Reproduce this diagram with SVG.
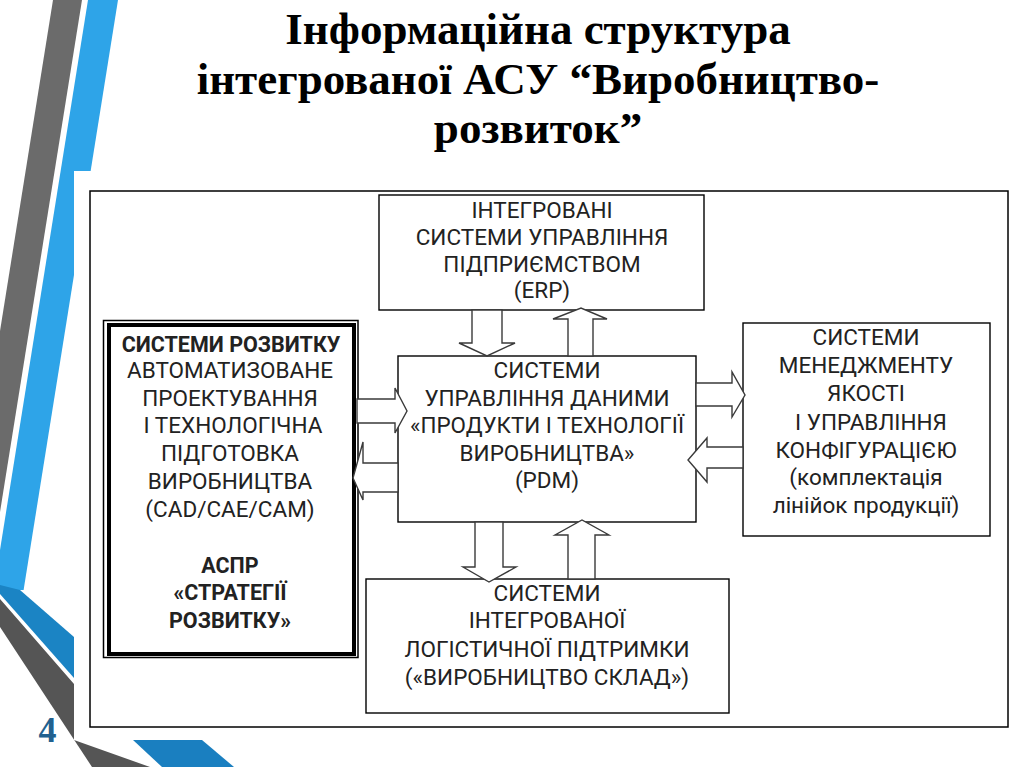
<svg xmlns="http://www.w3.org/2000/svg" width="1024" height="767" viewBox="0 0 1024 767">
<style>
.t{font-family:Roboto,"Open Sans","DejaVu Sans",sans-serif;font-size:22.5px;fill:#222;text-anchor:middle}
.b{font-weight:bold;font-size:21.5px}
.box{fill:#fff;stroke:#000;stroke-width:1.4}
.arr{fill:#fff;stroke:#3a3a3a;stroke-width:1.4;stroke-linejoin:miter}
.title{font-family:"Liberation Serif","Times New Roman",serif;font-weight:bold;font-size:45px;fill:#000;text-anchor:middle}
</style>
<g id="decoration">
<polygon points="53,0 82,0 0,512 0,331" fill="#6b6b6b"/>
<polygon points="88,0 118,0 23.6,590 0,590 0,550" fill="#2ea4e8"/>
<polygon points="0,585 20,590 74,637 74,678 0,594" fill="#1b84c4"/>
<polygon points="0,599 74,684 74,740 150,767 0,767" fill="#555555"/>
<polygon points="0,627 92,767 0,767" fill="#fff"/>
<polygon points="133,740 202,740 234,767 162,767" fill="#1a7fc0"/>
<rect x="74" y="171" width="950" height="569" fill="#fff"/>
<text x="47.5" y="742" font-family="Liberation Serif,serif" font-weight="bold" font-size="36" fill="#22618f" text-anchor="middle">4</text>
</g>
<g id="title">
<text class="title" x="538" y="44">Інформаційна структура</text>
<text class="title" x="538" y="94">інтегрованої АСУ “Виробництво-</text>
<text class="title" x="538" y="143">розвиток”</text>
</g>
<rect id="frame" x="90" y="191" width="918" height="536" fill="none" stroke="#000" stroke-width="1.5"/>
<g id="erp">
<rect class="box" x="379" y="195" width="325" height="115"/>
<text class="t" x="542" y="218">ІНТЕГРОВАНІ</text>
<text class="t" x="542" y="245">СИСТЕМИ УПРАВЛІННЯ</text>
<text class="t" x="542" y="272">ПІДПРИЄМСТВОМ</text>
<text class="t" x="542" y="298">(ERP)</text>
</g>
<g id="pdm">
<rect class="box" x="398" y="356" width="298" height="166"/>
<text class="t" x="547" y="378">СИСТЕМИ</text>
<text class="t" x="547" y="406">УПРАВЛІННЯ ДАНИМИ</text>
<text class="t" x="547" y="433" textLength="274" lengthAdjust="spacingAndGlyphs">«ПРОДУКТИ І ТЕХНОЛОГІЇ</text>
<text class="t" x="547" y="461">ВИРОБНИЦТВА»</text>
<text class="t" x="547" y="488">(PDM)</text>
</g>
<g id="dev">
<rect x="103.5" y="320.5" width="254.5" height="337" fill="#fff" stroke="#000" stroke-width="1.5"/>
<rect x="109" y="325" width="245" height="329" fill="none" stroke="#000" stroke-width="4"/>
<text class="t b" x="231" y="352">СИСТЕМИ РОЗВИТКУ</text>
<text class="t" x="230" y="378">АВТОМАТИЗОВАНЕ</text>
<text class="t" x="230" y="406">ПРОЕКТУВАННЯ</text>
<text class="t" x="233" y="433">І ТЕХНОЛОГІЧНА</text>
<text class="t" x="230" y="461">ПІДГОТОВКА</text>
<text class="t" x="230" y="489">ВИРОБНИЦТВА</text>
<text class="t" x="230" y="517">(CAD/CAE/CAM)</text>
<text class="t b" x="230" y="573">АСПР</text>
<text class="t b" x="230" y="600">«СТРАТЕГІЇ</text>
<text class="t b" x="230" y="628">РОЗВИТКУ»</text>
</g>
<g id="quality">
<rect class="box" x="743" y="323" width="247" height="213"/>
<text class="t" x="866" y="345">СИСТЕМИ</text>
<text class="t" x="866" y="373">МЕНЕДЖМЕНТУ</text>
<text class="t" x="866" y="401">ЯКОСТІ</text>
<text class="t" x="871" y="430">І УПРАВЛІННЯ</text>
<text class="t" x="866" y="458">КОНФІГУРАЦІЄЮ</text>
<text class="t" x="866" y="485">(комплектація</text>
<text class="t" x="866" y="513">лінійок продукції)</text>
</g>
<g id="logistics">
<rect class="box" x="366" y="579" width="363" height="134"/>
<text class="t" x="547" y="601">СИСТЕМИ</text>
<text class="t" x="547" y="628">ІНТЕГРОВАНОЇ</text>
<text class="t" x="547" y="657">ЛОГІСТИЧНОЇ ПІДТРИМКИ</text>
<text class="t" x="547" y="685">(«ВИРОБНИЦТВО СКЛАД»)</text>
</g>
<g id="connectors">
<polygon class="arr" points="472,310 502,310 502,343 515,343 487,356 459,343 472,343"/>
<polygon class="arr" points="568,356 568,319 553,319 581,308 607,319 593,319 593,356"/>
<polygon class="arr" points="357,399 395,399 395,388 407,411 395,433 395,423 357,423"/>
<polygon class="arr" points="398,463 363,463 363,442 353,478 363,500 363,492 398,492"/>
<polygon class="arr" points="696,383 732,383 732,372 745,395 732,417 732,406 696,406"/>
<polygon class="arr" points="743,447 707,447 707,438 688,460 707,482 707,468 743,468"/>
<polygon class="arr" points="475,522 503,522 503,567 516,567 489,582 463,567 475,567"/>
<polygon class="arr" points="568,579 568,535 555,535 582,520 609,535 595,535 595,579"/>
</g>
</svg>
